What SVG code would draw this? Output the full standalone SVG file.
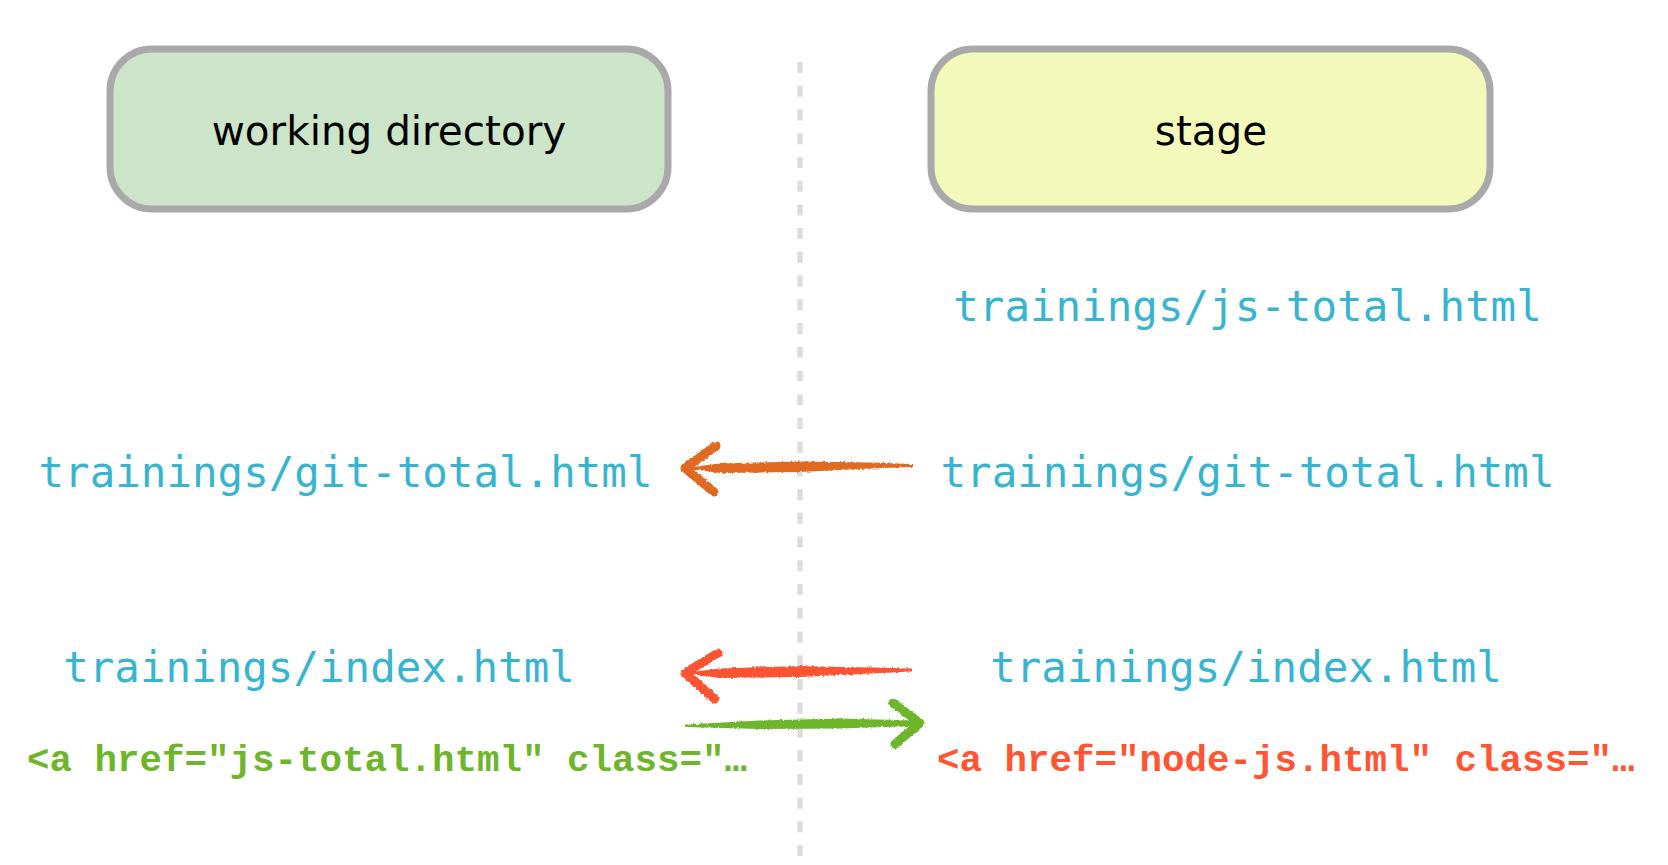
<svg xmlns="http://www.w3.org/2000/svg" width="1668" height="865" viewBox="0 0 1668 865">
<defs>
<style>
.box{stroke:#a9a9a9;stroke-width:7}
.title{font-family:"DejaVu Sans","Liberation Sans",sans-serif;font-size:40.5px;fill:#000;text-anchor:middle}
.file{font-family:"DejaVu Sans Mono","Liberation Mono",monospace;font-size:42.5px;fill:#37b4d0;text-anchor:middle}
.code{font-family:"Liberation Mono","Courier New",monospace;font-size:37.5px;font-weight:bold}
.head{fill:none;stroke-width:9;stroke-linecap:round;stroke-linejoin:round}
</style>
<filter id="rough" x="-5%" y="-50%" width="110%" height="200%">
<feTurbulence type="fractalNoise" baseFrequency="0.35" numOctaves="2" seed="3" result="n"/>
<feDisplacementMap in="SourceGraphic" in2="n" scale="3" xChannelSelector="R" yChannelSelector="G"/>
</filter>
</defs>
<rect width="1668" height="865" fill="#fff"/>
<line x1="800" y1="62" x2="800" y2="857" stroke="#dcdcdf" stroke-width="5.3" stroke-dasharray="11 12.73"/>
<g id="working-directory">
<rect class="box" x="110" y="49" width="558" height="160" rx="42" fill="#cce4c8"/>
<text class="title" x="389" y="145">working directory</text>
</g>
<g id="stage">
<rect class="box" x="931" y="49" width="559" height="160" rx="42" fill="#f3f9bb"/>
<text class="title" x="1211" y="145">stage</text>
</g>
<g id="stage-js-total"><text class="file" x="1247.5" y="321">trainings/js-total.html</text></g>
<g id="wd-git-total"><text class="file" x="345.5" y="487">trainings/git-total.html</text></g>
<g id="stage-git-total"><text class="file" x="1247.5" y="487">trainings/git-total.html</text></g>
<g id="wd-index"><text class="file" x="319" y="682">trainings/index.html</text></g>
<g id="stage-index"><text class="file" x="1246" y="682">trainings/index.html</text></g>
<g id="wd-code"><text class="code" x="27" y="771" fill="#6fb52c">&lt;a href="js-total.html" class="…</text></g>
<g id="stage-code"><text class="code" x="937" y="771" fill="#ff5533">&lt;a href="node-js.html" class="…</text></g>
<g id="connectors" filter="url(#rough)">
<g fill="#e06a22" stroke="#e06a22">
<path stroke="none" d="M683,468 L720,463.5 L800,461.5 L870,462.5 L913,464 L913,467 L870,468.5 L800,472 L720,473 Z"/>
<path class="head" d="M716,446 L685,468 L714,492"/>
</g>
<g fill="#fd5333" stroke="#fd5333">
<path stroke="none" d="M683,673 L720,668.5 L800,666 L870,667.5 L912,668.5 L912,671.5 L870,673.5 L800,677 L720,678 Z"/>
<path class="head" d="M718,653 L685,673 L715,699"/>
</g>
<g fill="#6db52a" stroke="#6db52a">
<path stroke="none" d="M685,724.5 L760,720.5 L840,718.5 L915,720.5 L923,723 L915,726 L840,728.5 L760,729 L685,727 Z"/>
<path class="head" d="M893,703 L920,723 L895,744"/>
</g>
</g>
</svg>
